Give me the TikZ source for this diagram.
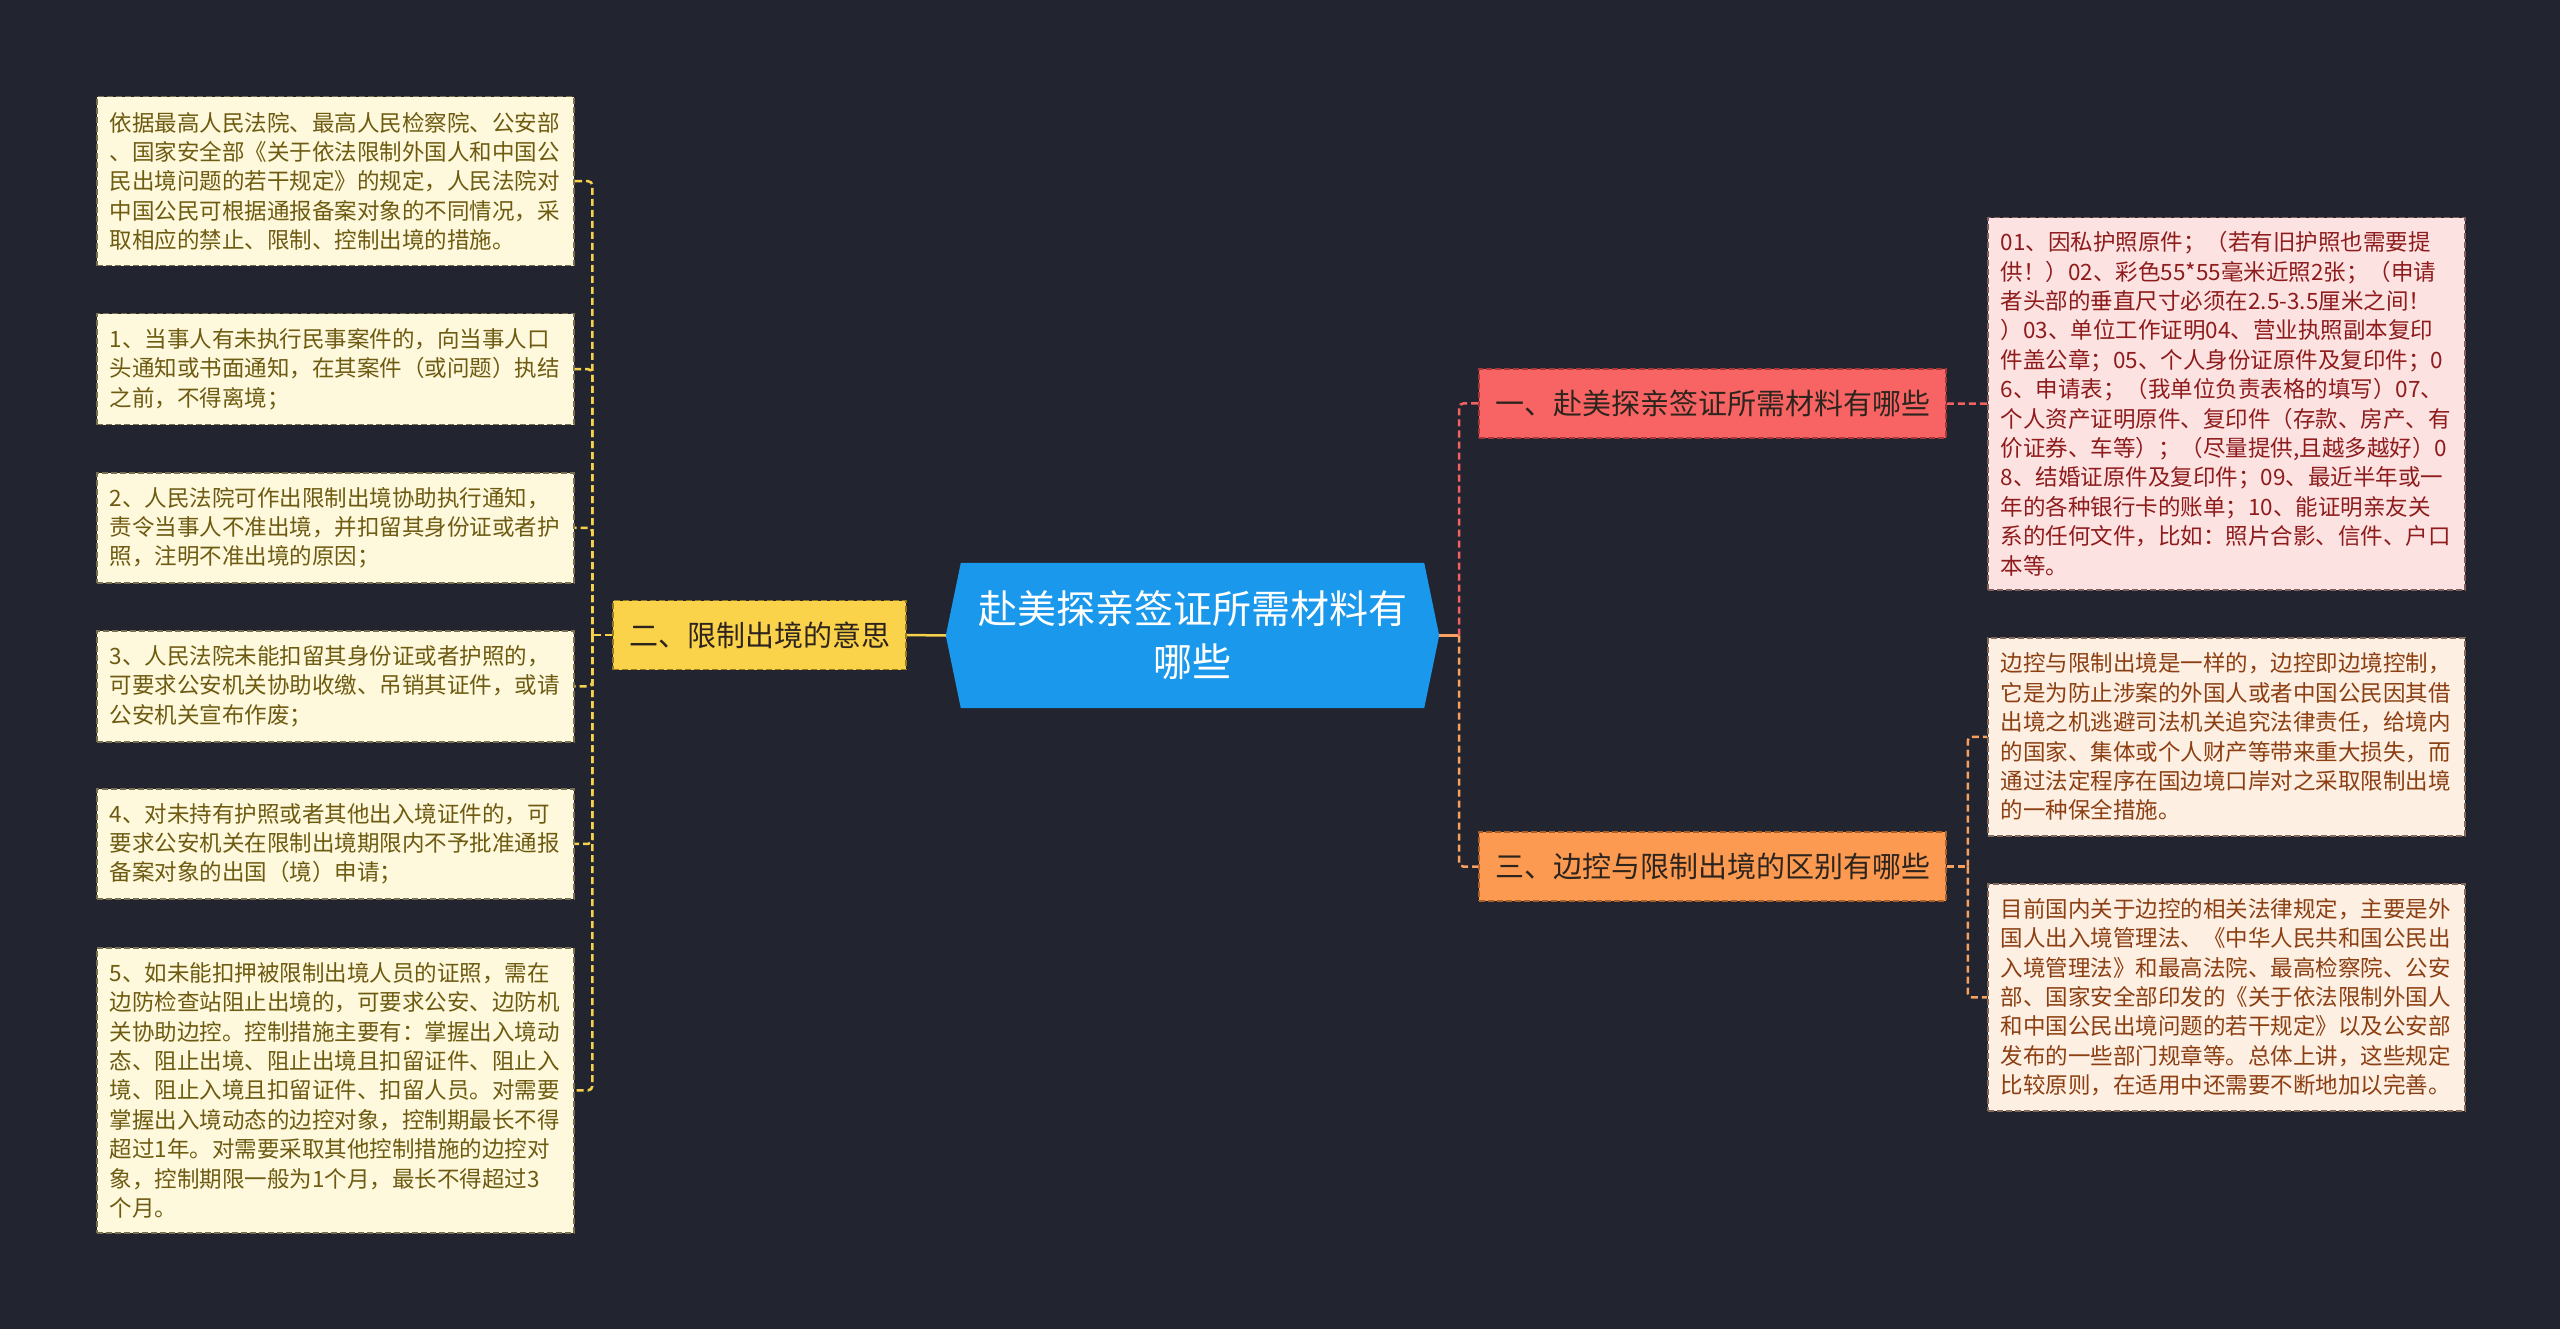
\documentclass[tikz,border=0pt]{standalone}
\usepackage{fontspec}
\setmainfont{Noto Sans CJK SC}
\usepackage{tikz}
\usetikzlibrary{backgrounds}

\definecolor{bgnavy}{RGB}{34,36,47}
\definecolor{rootblue}{RGB}{26,152,235}
\definecolor{yelfill}{RGB}{251,211,74}
\definecolor{yeledge}{RGB}{150,120,30}
\definecolor{redfill}{RGB}{248,100,100}
\definecolor{rededge}{RGB}{170,55,55}
\definecolor{orgfill}{RGB}{251,154,80}
\definecolor{orgedge}{RGB}{170,95,40}
\definecolor{topictext}{RGB}{46,36,30}
\definecolor{cream}{RGB}{254,248,220}
\definecolor{creamedge}{RGB}{120,110,80}
\definecolor{olivetext}{RGB}{110,91,18}
\definecolor{pinkfill}{RGB}{253,226,226}
\definecolor{pinkedge}{RGB}{130,95,95}
\definecolor{redtext}{RGB}{142,28,28}
\definecolor{peachfill}{RGB}{254,239,227}
\definecolor{peachedge}{RGB}{130,105,90}
\definecolor{browntext}{RGB}{139,63,18}
\definecolor{ylinkc}{RGB}{245,209,76}
\definecolor{rlinkc}{RGB}{242,98,98}
\definecolor{olinkc}{RGB}{247,160,96}

\tikzset{
  rootnode/.style={minimum width=493pt, minimum height=145pt, inner sep=0pt,
    align=center, text=white, font=\fontsize{39}{53}\selectfont},
  topic/.style={draw, line width=1.5pt, dash pattern=on 6pt off 3pt,
    minimum width=#1, minimum height=69pt, inner sep=0pt,
    text=topictext, font=\fontsize{29}{35}\selectfont},
  leaf/.style={draw, line width=1.5pt, dash pattern=on 6pt off 3pt,
    anchor=north west, text width=451pt, minimum height=#1, align=left,
    inner xsep=13pt, inner ysep=0pt, font=\fontsize{22.5}{29.4}\selectfont},
  ylink/.style={ylinkc, line width=2.5pt, dash pattern=on 7pt off 4pt, rounded corners=4pt},
  rlink/.style={rlinkc, line width=2.5pt, dash pattern=on 7pt off 4pt, rounded corners=4pt},
  olink/.style={olinkc, line width=2.5pt, dash pattern=on 7pt off 4pt, rounded corners=4pt},
}

\begin{document}
\begin{tikzpicture}[x=1pt, y=-1pt]
\useasboundingbox (0,0) rectangle (2560,1329);

% centre
\node[rootnode] (root) at (1192.5,635.5) {赴美探亲签证所需材料有\\哪些};

% first level
\node[topic=467pt, fill=redfill, draw=rededge] (yi) at (1712.5,403.5) {一、赴美探亲签证所需材料有哪些};
\node[topic=293pt, fill=yelfill, draw=yeledge] (er) at (759.5,635) {二、限制出境的意思};
\node[topic=467pt, fill=orgfill, draw=orgedge] (san) at (1712.5,866.5) {三、边控与限制出境的区别有哪些};

% left leaves
\node[leaf=169pt, fill=cream, draw=creamedge, text=olivetext] (b1) at (96,96) {依据最高人民法院、最高人民检察院、公安部\\、国家安全部《关于依法限制外国人和中国公\\民出境问题的若干规定》的规定，人民法院对\\中国公民可根据通报备案对象的不同情况，采\\取相应的禁止、限制、控制出境的措施。};
\node[leaf=111pt, fill=cream, draw=creamedge, text=olivetext] (b2) at (96,313) {1、当事人有未执行民事案件的，向当事人口\\头通知或书面通知，在其案件（或问题）执结\\之前，不得离境；};
\node[leaf=110pt, fill=cream, draw=creamedge, text=olivetext] (b3) at (96,472) {2、人民法院可作出限制出境协助执行通知，\\责令当事人不准出境，并扣留其身份证或者护\\照，注明不准出境的原因；};
\node[leaf=111pt, fill=cream, draw=creamedge, text=olivetext] (b4) at (96,630) {3、人民法院未能扣留其身份证或者护照的，\\可要求公安机关协助收缴、吊销其证件，或请\\公安机关宣布作废；};
\node[leaf=110pt, fill=cream, draw=creamedge, text=olivetext] (b5) at (96,788) {4、对未持有护照或者其他出入境证件的，可\\要求公安机关在限制出境期限内不予批准通报\\备案对象的出国（境）申请；};
\node[leaf=285pt, fill=cream, draw=creamedge, text=olivetext] (b6) at (96,947) {5、如未能扣押被限制出境人员的证照，需在\\边防检查站阻止出境的，可要求公安、边防机\\关协助边控。控制措施主要有：掌握出入境动\\态、阻止出境、阻止出境且扣留证件、阻止入\\境、阻止入境且扣留证件、扣留人员。对需要\\掌握出入境动态的边控对象，控制期最长不得\\超过1年。对需要采取其他控制措施的边控对\\象，控制期限一般为1个月，最长不得超过3\\个月。};

% right leaves
\node[leaf=372pt, fill=pinkfill, draw=pinkedge, text=redtext] (r1) at (1987,217) {01、因私护照原件；（若有旧护照也需要提\\供！）02、彩色55*55毫米近照2张；（申请\\者头部的垂直尺寸必须在2.5-3.5厘米之间！\\）03、单位工作证明04、营业执照副本复印\\件盖公章；05、个人身份证原件及复印件；0\\6、申请表；（我单位负责表格的填写）07、\\个人资产证明原件、复印件（存款、房产、有\\价证券、车等）；（尽量提供,且越多越好）0\\8、结婚证原件及复印件；09、最近半年或一\\年的各种银行卡的账单；10、能证明亲友关\\系的任何文件，比如：照片合影、信件、户口\\本等。};
\node[leaf=198pt, fill=peachfill, draw=peachedge, text=browntext] (o1) at (1987,637) {边控与限制出境是一样的，边控即边境控制，\\它是为防止涉案的外国人或者中国公民因其借\\出境之机逃避司法机关追究法律责任，给境内\\的国家、集体或个人财产等带来重大损失，而\\通过法定程序在国边境口岸对之采取限制出境\\的一种保全措施。};
\node[leaf=227pt, fill=peachfill, draw=peachedge, text=browntext] (o2) at (1987,883) {目前国内关于边控的相关法律规定，主要是外\\国人出入境管理法、《中华人民共和国公民出\\入境管理法》和最高法院、最高检察院、公安\\部、国家安全部印发的《关于依法限制外国人\\和中国公民出境问题的若干规定》以及公安部\\发布的一些部门规章等。总体上讲，这些规定\\比较原则，在适用中还需要不断地加以完善。};

\begin{scope}[on background layer]
  \fill[bgnavy] (0,0) rectangle (2560,1329);
  \fill[rootblue] (root.west) -- ([xshift=15pt]root.north west) -- ([xshift=-15pt]root.north east)
    -- (root.east) -- ([xshift=-15pt]root.south east) -- ([xshift=15pt]root.south west) -- cycle;
\end{scope}

% connectors
\coordinate (lfork) at ([xshift=-20pt]er.west);
\coordinate (rfork) at ([xshift=20pt]root.east);
\coordinate (ofork) at ([xshift=21pt]san.east);

\draw[ylink, solid] (root.west) -- (er.east);
\draw[ylink] (er.west) -- (lfork);
\foreach \b in {b1,b2,b3,b4,b5,b6} {
  \draw[ylink] (lfork) |- (\b.east);
}

\draw[olink, solid] (root.east) -- (rfork);
\draw[rlink] (rfork) |- (yi.west);
\draw[olink] (rfork) |- (san.west);
\draw[rlink] (yi.east) -- (r1.west);
\draw[olink] (san.east) -- (ofork);
\foreach \b in {o1,o2} {
  \draw[olink] (ofork) |- (\b.west);
}
\end{tikzpicture}
\end{document}
